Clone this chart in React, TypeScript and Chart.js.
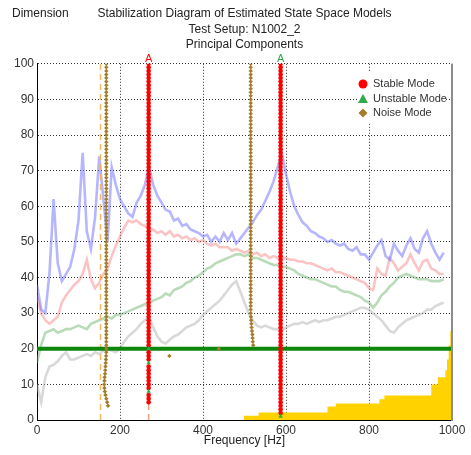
import React, { useEffect, useRef } from 'react';
import { Chart, registerables } from 'chart.js';

Chart.register(...registerables);

// ---------- data ----------
// frequency sampling of the principal-component curves (Hz)
const freqs: number[] = Array.from({ length: 99 }, (_, i) => i * 10);

const pc1 = [38, 31, 30, 41, 62, 44, 39, 41, 43, 48,
  56, 75, 53, 48, 57, 74, 62, 50, 71, 66,
  62, 60, 58, 57, 61, 63, 66, 71, 66, 63,
  61, 59, 58.5, 56, 56.5, 54.5, 55, 53.5, 53, 52.5,
  51.5, 52, 50, 51.5, 50, 52.5, 50.5, 52.5, 49.5, 51,
  52.5, 54, 55.5, 57.5, 59, 61.5, 64, 67, 71, 75,
  69, 64, 60, 57.5, 55.5, 54.5, 53, 52.5, 51.5, 51,
  50, 50.5, 49.5, 49, 49.5, 48, 47.5, 48.5, 46.5, 46.5,
  45, 47, 49, 50.5, 46, 45, 49.5, 47.5, 46, 49,
  51, 48, 47, 51, 53, 49.5, 47, 45, 47];

const pc2 = [35, 30, 28, 27, 28, 29, 33, 35, 36.5, 38,
  39, 41, 45, 39.5, 37, 38.5, 41, 42.5, 46, 49,
  51.5, 54, 56, 55.5, 56, 55, 54.5, 53.5, 53.5, 52.5,
  53, 52, 53, 51.5, 52, 51, 51.5, 50.5, 51, 50,
  50.5, 49.5, 49, 49.5, 48.5, 48.5, 48.5, 47.5, 48, 47.5,
  47, 47.5, 46.5, 47, 46, 46.5, 45.5, 46, 45.5, 45.5,
  45.5, 45, 45, 44.5, 44.5, 44, 44, 43.5, 43, 42.5,
  42, 42.5, 41.5, 41.5, 41, 40.5, 40, 39.5, 39, 38.5,
  37, 36.5, 42.5, 41, 40.5, 45.5, 44, 42, 43, 44,
  46.5, 44, 42, 44.5, 45, 42.5, 42, 41, 41];

const pc3 = [16, 21, 24.5, 25, 25.5, 24.5, 25, 25.5, 25.5, 26,
  26.5, 26, 25.5, 27, 27.5, 28, 28.5, 29, 28.5, 29.5,
  29.5, 30, 30.5, 31, 31.5, 32, 32.5, 33, 33.5, 34,
  34.5, 35.5, 35, 36.5, 37, 37.5, 38.5, 39, 40, 40.5,
  41.5, 42.5, 43, 44, 44.5, 45, 45.5, 46, 46.5, 46.5,
  46, 46.5, 45.5, 45.5, 45, 44.5, 44, 43.5, 43.5, 43,
  43, 42.5, 42, 41, 40.5, 40, 39.5, 39.5, 39, 38.5,
  38, 37.5, 37.5, 36.5, 36, 36, 35.5, 35, 34.5, 33.5,
  33, 31.5, 33, 35, 36, 37.5, 38.5, 40, 40.5, 41,
  40.5, 40, 39.5, 39.5, 39.5, 39, 39, 39, 39.5];

const pc4 = [10, 5, 12, 15, 15.5, 16.5, 18, 19, 17, 17,
  17.5, 18, 18.5, 18, 19, 18.5, 19.5, 20, 19.5, 19,
  20, 22, 23.5, 24.5, 25.5, 27, 28, 29, 26, 23.5,
  22, 21.5, 22.5, 23.5, 24, 25, 26, 26.5, 27, 28,
  29.5, 30.5, 31.5, 32.5, 33.5, 35, 36.5, 38, 39, 36,
  33, 30, 28, 26.5, 26, 26.5, 26, 25.5, 25.5, 25,
  26, 26.5, 27, 27, 27.5, 27, 27.5, 28, 27.5, 28,
  28, 28.5, 29, 29, 29.5, 30, 30.5, 31, 31.5, 31.5,
  31, 30, 29, 28, 26.5, 25, 24.5, 26, 27, 28,
  28.5, 29, 29.5, 30, 31, 31, 32, 32.5, 33];

// model orders (dimension)
const maxOrder = 100;
const selectedOrder = 20;

// stable mode columns
const stableFreqs = [269, 587];
const stableFirstOrder = [5, 2];
// unstable modes
const unstableFreqs = [269, 269, 269, 587];
const unstableOrders = [8, 16, 20, 1];
// noise modes: column 1 (orders 4..20 drift, then constant)
const noise1Low = [171, 169, 167, 165, 163.5, 162.5, 162, 162.5, 163, 164, 164.5, 165, 165.5, 166, 166.5, 167, 167];
const noise1FirstOrder = 4;
const noise1Freq = 167;
// noise column 2 (orders 21..30 drift, then constant)
const noise2Low = [521, 520, 519.5, 519, 518, 517, 516.5, 516, 515.5, 515];
const noise2FirstOrder = 21;
const noise2Freq = 515;
const strayNoiseFreqs = [319, 438];
const strayNoiseOrders = [18, 20];

// dashed marker lines
const dashedFreqs = [153, 269];

// cumulative count (yellow)
const countFreqs = [498, 534, 700, 720, 825, 837, 950, 966, 984, 988, 992, 996, 1000];
const countVals = [0.6, 1.2, 2.1, 3.8, 4.6, 5.8, 6.9, 10, 12, 14, 17, 21, 25];

const xTicks = [0, 200, 400, 600, 800, 1000];

const FONT = '"Liberation Sans", Arial, sans-serif';

const STABLE_C = '#ff0000';
const UNSTABLE_C = '#2eaa4a';
const NOISE_C = '#a27c2a';

function curve(vals: number[]) {
  return freqs.map((f, i) => ({ x: f, y: vals[i] }));
}

function buildStable() {
  const pts: { x: number; y: number }[] = [];
  stableFreqs.forEach((f, k) => {
    for (let o = stableFirstOrder[k]; o <= maxOrder; o++) {
      const skip = unstableFreqs.some((uf, j) => uf === f && unstableOrders[j] === o);
      if (!skip) pts.push({ x: f, y: o });
    }
  });
  return pts;
}

function buildUnstable() {
  return unstableFreqs.map((f, i) => ({ x: f, y: unstableOrders[i] }));
}

function buildNoise() {
  const pts: { x: number; y: number }[] = [];
  for (let o = noise1FirstOrder; o <= maxOrder; o++) {
    const idx = o - noise1FirstOrder;
    pts.push({ x: idx < noise1Low.length ? noise1Low[idx] : noise1Freq, y: o });
  }
  for (let o = noise2FirstOrder; o <= maxOrder; o++) {
    const idx = o - noise2FirstOrder;
    pts.push({ x: idx < noise2Low.length ? noise2Low[idx] : noise2Freq, y: o });
  }
  strayNoiseFreqs.forEach((f, i) => pts.push({ x: f, y: strayNoiseOrders[i] }));
  return pts;
}

const overlayPlugin = {
  id: 'overlay',
  afterDraw(chart: any) {
    const { ctx, chartArea: ca, scales } = chart;
    const xs = scales.x;
    ctx.save();
    // right border
    ctx.strokeStyle = '#8c8c8c';
    ctx.lineWidth = 2;
    ctx.beginPath();
    ctx.moveTo(ca.right, ca.top);
    ctx.lineTo(ca.right, ca.bottom + 1);
    ctx.stroke();

    // Dimension label
    ctx.font = `12px ${FONT}`;
    ctx.fillStyle = '#222';
    ctx.textAlign = 'left';
    ctx.textBaseline = 'middle';
    ctx.fillText('Dimension', 12, 14);

    // 'A' markers
    ctx.font = `11px ${FONT}`;
    ctx.textAlign = 'center';
    ctx.textBaseline = 'alphabetic';
    ctx.fillStyle = STABLE_C;
    ctx.fillText('A', xs.getPixelForValue(stableFreqs[0]), ca.top - 2);
    ctx.fillStyle = UNSTABLE_C;
    ctx.fillText('A', xs.getPixelForValue(stableFreqs[1]), ca.top - 2);

    // legend
    const lx = 357, ly = 72;
    ctx.fillStyle = '#ffffff';
    ctx.fillRect(lx, ly, 88, 50);
    const mx = 363;
    const rows = [84, 99, 113];
    ctx.fillStyle = STABLE_C;
    ctx.beginPath();
    ctx.arc(mx, rows[0], 4.5, 0, Math.PI * 2);
    ctx.fill();
    ctx.fillStyle = UNSTABLE_C;
    ctx.beginPath();
    ctx.moveTo(mx, rows[1] - 5);
    ctx.lineTo(mx + 5, rows[1] + 4);
    ctx.lineTo(mx - 5, rows[1] + 4);
    ctx.closePath();
    ctx.fill();
    ctx.fillStyle = NOISE_C;
    ctx.beginPath();
    ctx.moveTo(mx, rows[2] - 4.5);
    ctx.lineTo(mx + 4.5, rows[2]);
    ctx.lineTo(mx, rows[2] + 4.5);
    ctx.lineTo(mx - 4.5, rows[2]);
    ctx.closePath();
    ctx.fill();
    ctx.font = `11px ${FONT}`;
    ctx.fillStyle = '#333';
    ctx.textAlign = 'left';
    ctx.textBaseline = 'middle';
    ctx.fillText('Stable Mode', 373, rows[0]);
    ctx.fillText('Unstable Mode', 373, rows[1]);
    ctx.fillText('Noise Mode', 373, rows[2]);
    ctx.restore();
  },
};

export default function App() {
  const ref = useRef<HTMLCanvasElement | null>(null);

  useEffect(() => {
    if (!ref.current) return;
    const datasets: any[] = [
      {
        type: 'scatter', label: 'Unstable', data: buildUnstable(), order: 1,
        pointStyle: 'triangle', pointRadius: 2.6, backgroundColor: UNSTABLE_C, borderWidth: 0,
      },
      {
        type: 'scatter', label: 'Stable', data: buildStable(), order: 2,
        pointStyle: 'circle', pointRadius: 2.3, backgroundColor: STABLE_C, borderWidth: 0,
      },
      {
        type: 'scatter', label: 'Noise', data: buildNoise(), order: 3,
        pointStyle: 'rectRot', pointRadius: 2.2, backgroundColor: NOISE_C, borderWidth: 0,
      },
      {
        type: 'line', label: 'Selected', order: 4,
        data: [{ x: 0, y: selectedOrder }, { x: 1000, y: selectedOrder }],
        borderColor: '#0c870c', borderWidth: 4, pointRadius: 0,
      },
      ...dashedFreqs.map((f, i) => ({
        type: 'line', label: 'dash' + i, order: 5,
        data: [{ x: f, y: 0 }, { x: f, y: 100 }],
        borderColor: i === 0 ? 'rgba(246,178,80,0.9)' : 'rgba(240,150,110,0.9)',
        borderWidth: 1.5, borderDash: [6, 4], pointRadius: 0,
      })),
      {
        type: 'line', label: 'PC1', data: curve(pc1), order: 6,
        borderColor: 'rgba(110,110,255,0.5)', borderWidth: 2.6, pointRadius: 0,
      },
      {
        type: 'line', label: 'PC2', data: curve(pc2), order: 7,
        borderColor: 'rgba(245,125,125,0.45)', borderWidth: 2.6, pointRadius: 0,
      },
      {
        type: 'line', label: 'PC3', data: curve(pc3), order: 8,
        borderColor: 'rgba(100,175,100,0.45)', borderWidth: 2.6, pointRadius: 0,
      },
      {
        type: 'line', label: 'PC4', data: curve(pc4), order: 9,
        borderColor: 'rgba(170,170,170,0.45)', borderWidth: 2.6, pointRadius: 0,
      },
      {
        type: 'line', label: 'Count', order: 10,
        data: countFreqs.map((f, i) => ({ x: f, y: countVals[i] })),
        stepped: 'after', borderColor: '#ffd200', borderWidth: 0,
        backgroundColor: '#ffd200', fill: 'origin', pointRadius: 0,
      },
    ];

    const chart = new Chart(ref.current, {
      type: 'scatter',
      data: { datasets },
      plugins: [overlayPlugin],
      options: {
        animation: false,
        responsive: true,
        maintainAspectRatio: false,
        layout: { padding: { left: 0, right: 19, top: 0, bottom: 0 } },
        plugins: {
          legend: { display: false },
          tooltip: { enabled: false },
          title: {
            display: true,
            fullSize: false,
            text: ['Stabilization Diagram of Estimated State Space Models', 'Test Setup: N1002_2', 'Principal Components'],
            color: '#222',
            font: { size: 12, family: FONT, weight: 'normal', lineHeight: 1.3 },
            padding: { top: 6, bottom: 11 },
          },
        },
        scales: {
          x: {
            type: 'linear', min: 0, max: 1000,
            afterFit: (s: any) => { s.height = 35; },
            afterBuildTicks: (s: any) => { s.ticks = xTicks.map((v) => ({ value: v })); },
            ticks: { color: '#333', font: { size: 12, family: FONT }, padding: 3, maxRotation: 0, callback: (v: any) => String(v) },
            grid: { color: '#333', lineWidth: 1, drawTicks: false },
            border: { display: true, color: '#000', width: 1, dash: [1, 2] },
            title: { display: true, text: 'Frequency [Hz]', color: '#222', font: { size: 12, family: FONT }, padding: { top: 0, bottom: 7 } },
          },
          y: {
            type: 'linear', min: 0, max: 100,
            afterFit: (s: any) => { s.width = 37; },
            ticks: { stepSize: 10, color: '#333', font: { size: 12, family: FONT }, padding: 3, callback: (v: any) => String(v) },
            grid: { color: '#333', lineWidth: 1, drawTicks: false },
            border: { display: true, color: '#000', width: 1, dash: [1, 2] },
          },
        },
      } as any,
    });
    return () => chart.destroy();
  }, []);

  return (
    <div style={{ position: 'absolute', left: 0, top: 0, width: 471, height: 455, background: '#fff' }}>
      <canvas ref={ref} />
    </div>
  );
}
